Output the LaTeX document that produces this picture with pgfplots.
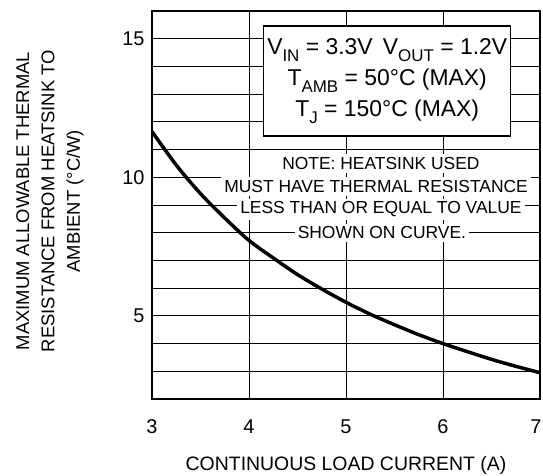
\documentclass[border=0pt]{standalone}
\usepackage{fontspec}
\setmainfont{Liberation Sans}
\usepackage{pgfplots}
\pgfplotsset{compat=1.18}

\newcommand{\sub}[1]{\raisebox{-0.33em}{\fontsize{17}{17}\selectfont #1}}

\begin{document}
\begin{tikzpicture}
\useasboundingbox (-152bp,-77bp) rectangle (391bp,399bp);
\begin{axis}[
    scale only axis,
    width=388bp, height=388bp,
    xmin=3, xmax=7, ymin=2, ymax=16,
    xtick={3,4,5,6,7},
    xticklabels={3,4,5,6,{\makebox[3bp][r]{7}}},
    ytick={5,10,15},
    minor ytick={3,4,6,7,8,9,11,12,13,14},
    grid=both,
    major grid style={black, line width=0.8pt},
    minor grid style={black, line width=0.8pt},
    major tick length=0pt, minor tick length=0pt,
    axis line style={black, line width=1.3pt},
    /pgf/number format/assume math mode=true,
    tick label style={font=\fontsize{20}{20}\selectfont},
    xticklabel style={yshift=-17bp},
    yticklabel style={xshift=-4bp},
    xlabel={CONTINUOUS LOAD CURRENT (A)},
    ylabel={MAXIMUM ALLOWABLE THERMAL\\RESISTANCE FROM HEATSINK TO\\AMBIENT (°C/W)},
    every axis x label/.style={at={(axis description cs:0.5,-0.172)}, anchor=center,
        font=\fontsize{19.5}{25}\selectfont},
    every axis y label/.style={at={(axis description cs:-0.263,0.51)}, anchor=center,
        rotate=90, align=center, font=\fontsize{18.5}{25.5}\selectfont},
]
% condition box
\node[draw=black, line width=1.3pt, fill=white, minimum width=247bp, minimum height=110bp,
      align=center, font=\fontsize{23}{31}\selectfont, inner sep=2bp]
  at (axis cs:5.425,13.47)
  {V\sub{IN} = 3.3V\, V\sub{OUT} = 1.2V\\ T\sub{AMB} = 50°C (MAX)\\ T\sub{J} = 150°C (MAX)};
% note lines
\node[fill=white, inner sep=3bp, font=\fontsize{17.5}{17.5}\selectfont] at (axis cs:5.36,10.5) {NOTE: HEATSINK USED};
\node[fill=white, inner sep=3bp, font=\fontsize{17.5}{17.5}\selectfont] at (axis cs:5.31,9.67) {MUST HAVE THERMAL RESISTANCE};
\node[fill=white, inner sep=3bp, font=\fontsize{17.5}{17.5}\selectfont] at (axis cs:5.36,8.84) {LESS THAN OR EQUAL TO VALUE};
\node[fill=white, inner sep=3bp, font=\fontsize{17.5}{17.5}\selectfont] at (axis cs:5.37,8.0) {SHOWN ON CURVE.};
\addplot[black, line width=3.5pt, smooth] coordinates {
(3.00,11.65) (3.25,10.44) (3.50,9.41) (3.75,8.53) (4.00,7.72)
(4.25,7.09) (4.50,6.49) (4.75,5.97) (5.00,5.49) (5.25,5.06)
(5.50,4.68) (5.75,4.32) (6.00,4.00) (6.25,3.71) (6.50,3.43)
(6.75,3.18) (7.00,2.95)
};
\end{axis}
\end{tikzpicture}
\end{document}
